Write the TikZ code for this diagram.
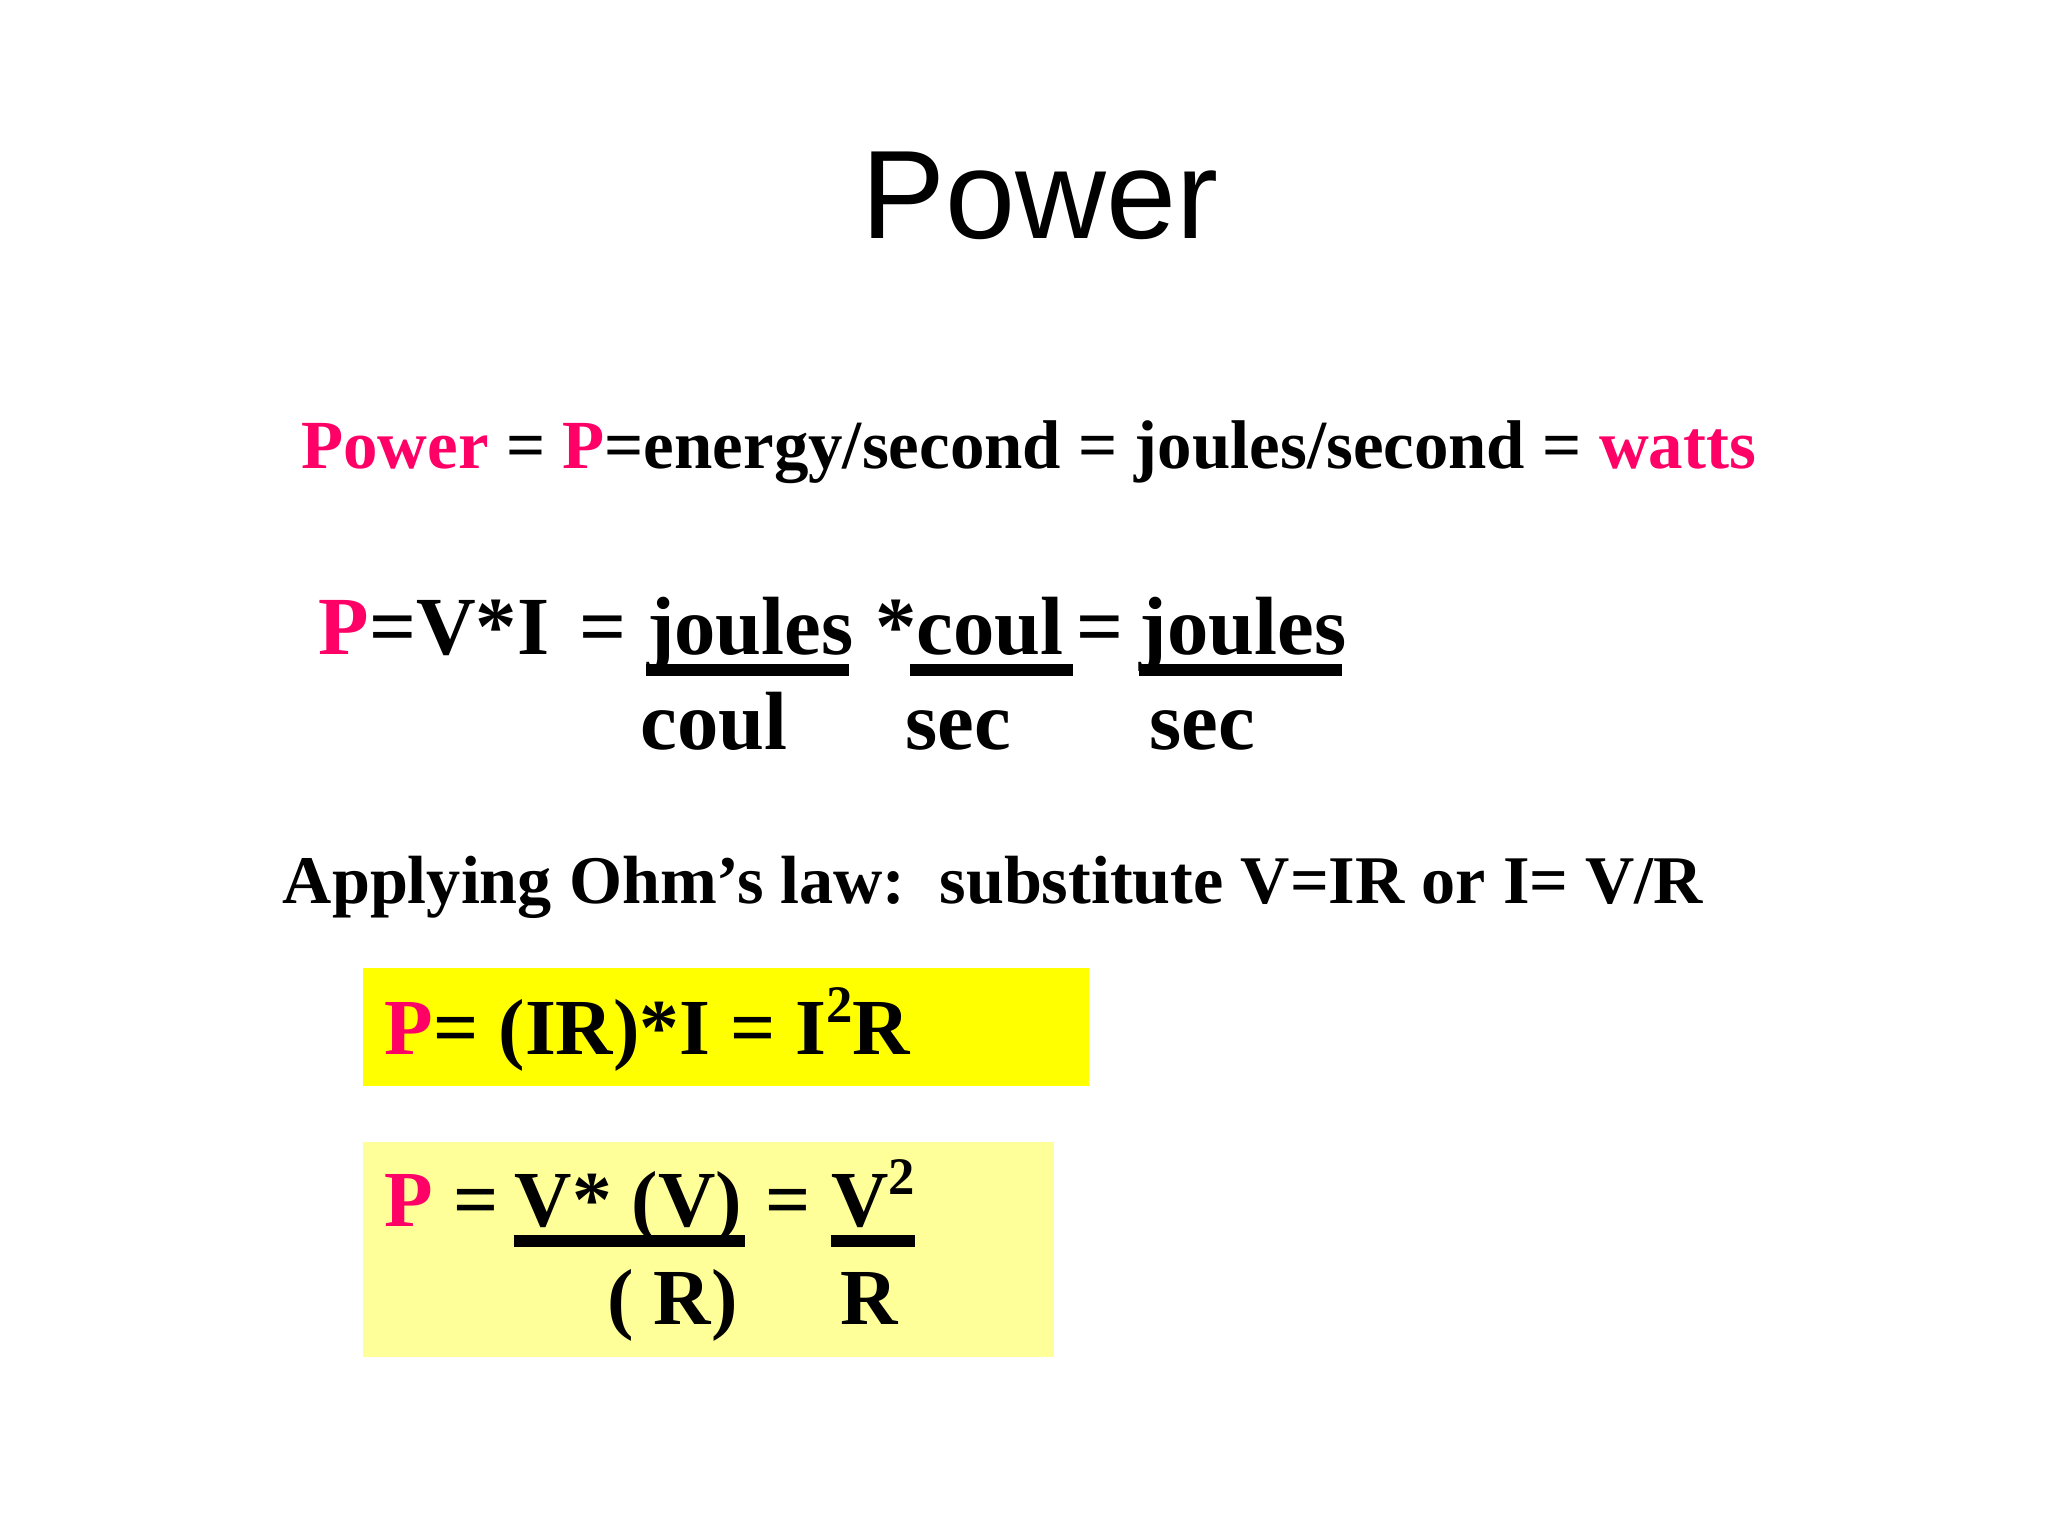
\documentclass[tikz,border=0pt]{standalone}
\usepackage{fontspec}
\setmainfont{Liberation Serif}
\newfontfamily\titlefont{Liberation Sans}
\definecolor{pk}{HTML}{FF0066}
\definecolor{ylw}{HTML}{FFFF00}
\definecolor{lylw}{HTML}{FFFF99}
\newcommand\mysup[1]{\raisebox{0.4em}{\fontsize{15}{18}\selectfont #1}}
\begin{document}
\begin{tikzpicture}[x=0.013247cm,y=-0.013247cm,
  txt/.style={anchor=base west,inner sep=0pt,font=\bfseries\fontsize{23.5}{28}\selectfont},
  bx/.style={txt,font=\bfseries\fontsize{22.6}{27}\selectfont},
  ul/.style={line width=3.5pt}]
\useasboundingbox[fill=white] (0,0) rectangle (1546,1160);
\node[anchor=base,inner sep=0pt,font=\titlefont\fontsize{35.8}{42}\selectfont] (title) at (785,180) {Power};
\node[txt,font=\bfseries\fontsize{19.6}{24}\selectfont] (l1) at (227,354) {{\color{pk}Power} = {\color{pk}P}=energy/second = joules/second = {\color{pk}watts}};
\node[txt] (l2) at (240,494) {{\color{pk}P}=V*I};
\node[txt] (l2b) at (437,494) {=};
\node[txt] (j1) at (488,494) {joules};
\node[txt] (c1) at (660,494) {*coul};
\node[txt] (e2) at (812,494) {=};
\node[txt] (j2) at (860,494) {joules};
\draw[ul] (488,506) -- (641,506);
\draw[ul] (687,506) -- (810,506);
\draw[ul] (860,506) -- (1013,506);
\node[txt] (d1) at (483,566) {coul};
\node[txt] (d2) at (683,566) {sec};
\node[txt] (d3) at (867,566) {sec};
\node[txt,font=\bfseries\fontsize{19.4}{24}\selectfont] (ohm) at (213,682) {Applying Ohm’s law:\ \ substitute V=IR or I= V/R};
\fill[ylw] (274,731) rectangle (822,820);
\node[bx] (b1) at (290,796) {{\color{pk}P}= (IR)*I = I\mysup{2}R};
\fill[lylw] (274,862) rectangle (796,1024);
\node[bx] (b2) at (290,926) {{\color{pk}P} =};
\node[bx] (b2n) at (388,926) {V* (V)};
\node[bx] (b2e) at (577,926) {=};
\node[bx] (b2v) at (627,926) {V\mysup{2}};
\draw[ul] (388,937) -- (562,937);
\draw[ul] (627,937) -- (691,937);
\node[bx] (b2a) at (458,1000) {( R)};
\node[bx] (b2b) at (634,1000) {R};
\end{tikzpicture}
\end{document}
